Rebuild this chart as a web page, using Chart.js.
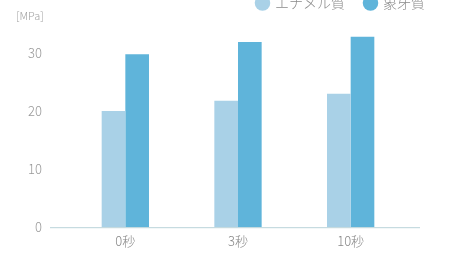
<!DOCTYPE html>
<html>
<head>
<meta charset="utf-8">
<script src="https://cdn.jsdelivr.net/npm/chart.js@4"></script>
<style>
  body { margin: 0; background: #fff; }
  #wrap { position: relative; width: 458px; height: 258px; overflow: hidden; }
  #box { position: absolute; left: 0; top: -24px; width: 458px; height: 286px; }
</style>
</head>
<body>
<div id="wrap"><div id="box"><canvas id="chart"></canvas></div></div>
<script>
// chart data
const categories = ["0秒", "3秒", "10秒"];
const seriesNames = ["エナメル質", "象牙質"];
const enamelValues = [20, 21.8, 23];
const dentinValues = [29.8, 31.9, 32.8];
const yTicks = [0, 10, 20, 30];
const unitLabel = "[MPa]";

const FONT = "'Noto Sans CJK JP', 'Noto Sans', sans-serif";

// baseline line plus unit label
const extras = {
  id: "extras",
  afterDatasetsDraw(chart) {
    const { ctx, chartArea, scales } = chart;
    const y0 = scales.y.getPixelForValue(0);
    ctx.save();
    ctx.strokeStyle = "#b9d3d9";
    ctx.lineWidth = 1;
    ctx.beginPath();
    ctx.moveTo(chartArea.left - 19, y0 + 0.5);
    ctx.lineTo(chartArea.right + 13, y0 + 0.5);
    ctx.stroke();
    ctx.fillStyle = "#a0a0a0";
    ctx.font = "300 11px " + FONT;
    ctx.textBaseline = "middle";
    ctx.fillText(unitLabel, 16, chartArea.top - 4);
    ctx.restore();
  },
};

new Chart(document.getElementById("chart"), {
  type: "bar",
  data: {
    labels: categories,
    datasets: [
      {
        label: seriesNames[0],
        data: enamelValues,
        backgroundColor: "#a9d1e7",
        barPercentage: 1,
        categoryPercentage: 0.42,
      },
      {
        label: seriesNames[1],
        data: dentinValues,
        backgroundColor: "#5fb4da",
        barPercentage: 1,
        categoryPercentage: 0.42,
      },
    ],
  },
  options: {
    responsive: true,
    maintainAspectRatio: false,
    animation: false,
    layout: { padding: { left: 0, right: 13, top: 0, bottom: 0 } },
    plugins: {
      legend: {
        position: "top",
        align: "end",
        labels: {
          usePointStyle: true,
          pointStyle: "circle",
          boxWidth: 11,
          boxHeight: 11,
          color: "#8a8a8a",
          font: { family: FONT, size: 14, weight: 300 },
          padding: 20,
        },
      },
      tooltip: { enabled: false },
    },
    scales: {
      x: {
        grid: { display: false, drawTicks: false },
        border: { display: false },
        ticks: { color: "#888", font: { family: FONT, size: 13, weight: 300 }, padding: 6 },
      },
      y: {
        min: 0,
        max: 35.7,
        grid: { display: false, drawTicks: false },
        border: { display: false },
        afterFit(scale) { scale.width = 69; },
        afterBuildTicks(scale) { scale.ticks = yTicks.map((v) => ({ value: v })); },
        ticks: { color: "#999", font: { family: FONT, size: 13, weight: 300 }, padding: 27 },
      },
      // empty right-side spacer so the legend can sit further right than the plot
      y2: {
        position: "right",
        min: 0,
        max: 35.7,
        grid: { display: false, drawTicks: false },
        border: { display: false },
        ticks: { display: false },
        afterFit(scale) { scale.width = 38; },
      },
    },
  },
  plugins: [extras],
});
</script>
</body>
</html>
